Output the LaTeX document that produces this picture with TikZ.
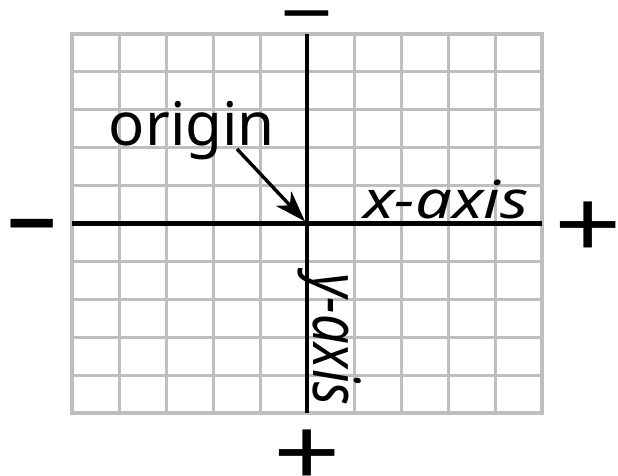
\documentclass[tikz,border=0pt]{standalone}
\usepackage{fontspec}
\setmainfont{Noto Sans}
\usetikzlibrary{arrows.meta}
\definecolor{gridgray}{HTML}{BEBEBE}
\tikzset{
  gridline/.style={draw=gridgray, line width=3pt},
  axisline/.style={draw=black, line width=4.2pt},
  pointer/.style={draw=black, line width=3.4pt, -{Stealth[length=31pt,width=21pt,inset=9pt]}},
  sign/.style={inner sep=0pt, anchor=base},
  lbl/.style={inner sep=0pt}
}
\begin{document}
\begin{tikzpicture}[x=1pt,y=-1pt]
\useasboundingbox (0,0) rectangle (618,475);
\fill[white] (0,0) rectangle (618,475);
\foreach \i in {0,...,10} \draw[gridline] ({72+47*\i},34) -- ({72+47*\i},413);
\foreach \j in {0,...,10} \draw[gridline] (72,{34+37.9*\j}) -- (542,{34+37.9*\j});
\draw[gridline, line width=4pt] (72,34) rectangle (542,413);
\coordinate (O) at (307,223.5);
\coordinate (xl) at (72,223.5);
\coordinate (xr) at (542,223.5);
\coordinate (yt) at (307,34);
\coordinate (yb) at (307,413);
\draw[axisline] (xl) -- (xr);
\draw[axisline] (yt) -- (yb);
\node[lbl, anchor=base, font=\fontsize{60}{60}\selectfont] (origin) at (192,145) {origin};
\coordinate (arrstart) at (237,149);
\draw[pointer, shorten >=3pt] (arrstart) -- (O);
\node[lbl, anchor=base, font=\fontsize{65}{65}\selectfont\itshape] (xlab) at (446,218) {\scalebox{1}[0.806]{x-axis}};
\node[lbl, rotate=-90, anchor=base west, font=\fontsize{65}{65}\selectfont\itshape] (ylab) at (313,273) {\scalebox{0.806}[1]{y-axis}};
\node[sign, font=\fontsize{90}{90}\selectfont\bfseries] (mtop) at (307.5,40.5) {\scalebox{1.03}[0.85]{−}};
\node[sign, font=\fontsize{90}{90}\selectfont\bfseries] (mleft) at (32,266.5) {\scalebox{1}[1.35]{−}};
\node[sign, font=\fontsize{118}{118}\selectfont\bfseries] (pright) at (588.5,258) {\scalebox{1}[0.806]{+}};
\node[sign, font=\fontsize{118}{118}\selectfont\bfseries] (pbottom) at (307.5,486) {\scalebox{1}[0.806]{+}};
\end{tikzpicture}
\end{document}
